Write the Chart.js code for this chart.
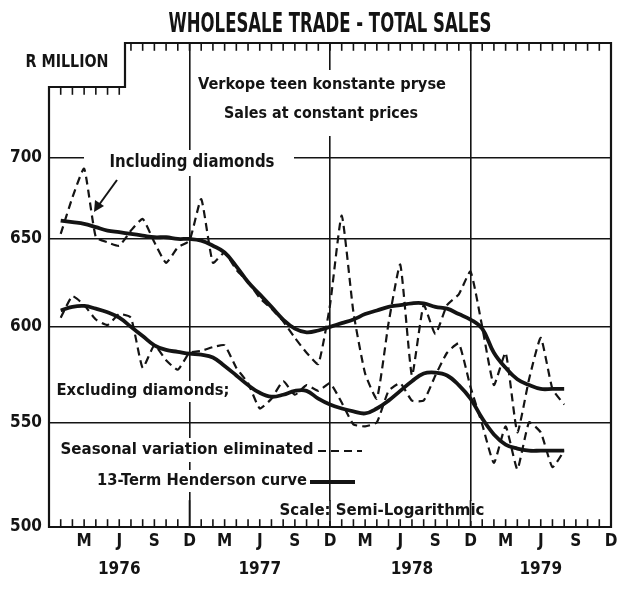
<!DOCTYPE html>
<html><head><meta charset="utf-8">
<script src="https://cdn.jsdelivr.net/npm/chart.js@4.4.1/dist/chart.umd.min.js"></script>
<style>html,body{margin:0;padding:0;background:#fff;}#wrap{width:621px;height:592px;}</style>
</head><body><div id="wrap"><canvas id="c" width="621" height="592"></canvas></div>
<script>
// ---------------- data ----------------
const months = ['1975-12',
 '1976-01','1976-02','1976-03','1976-04','1976-05','1976-06','1976-07','1976-08','1976-09','1976-10','1976-11','1976-12',
 '1977-01','1977-02','1977-03','1977-04','1977-05','1977-06','1977-07','1977-08','1977-09','1977-10','1977-11','1977-12',
 '1978-01','1978-02','1978-03','1978-04','1978-05','1978-06','1978-07','1978-08','1978-09','1978-10','1978-11','1978-12',
 '1979-01','1979-02','1979-03','1979-04','1979-05','1979-06','1979-07','1979-08','1979-09','1979-10','1979-11','1979-12'];

const monthTickLabels = ['',
 '','','M','','','J','','','S','','','D',
 '','','M','','','J','','','S','','','D',
 '','','M','','','J','','','S','','','D',
 '','','M','','','J','','','S','','','D'];

const yearLabels = ['1976','1977','1978','1979'];
const yearTickMonths = ['1976-06','1977-06','1978-07','1979-06'];

const yTicks = [500, 550, 600, 650, 700];

// Jan 1976 .. Aug 1979 (44 months), R million at constant prices
const inclSeasonal = [653,675,693,651,648,646,655,662,648,636,645,649,
                      674,636,642,632,625,616,610,603,594,586,580,612,
                      664,608,575,562,602,635,574,612,596,612,618,631,
                      600,569,586,545,572,594,567,559];
const inclHenderson = [661,660,659,657,655,654,653,652,651,651,650,650,
                       649,646,642,634,625,618,611,604,599,597,598,600,
                       602,604,607,609,611,612,613,613,611,610,607,604,
                       599,586,578,572,569,567,567,567];
const exclSeasonal = [605,617,612,604,601,607,605,578,590,582,577,586,
                      587,589,590,578,570,557,562,571,564,569,566,570,
                      560,549,548,550,566,570,561,561,574,586,591,568,
                      549,530,548,527,550,545,528,536];
const exclHenderson = [609,611,611.5,610,608,605,600,595,590,587.5,586.5,585.5,
                       585,583.5,579,574,569,565,563,564,566,566,562,559,
                       557,555.5,554.5,557,561,566,571,575,575.5,574,569,562,
                       552,544,539,537,536,536,536,536];

// ---------------- helpers ----------------
const FONT = "'DejaVu Sans Condensed','Liberation Sans Narrow','DejaVu Sans',sans-serif";
const pad = arr => [null, ...arr, null, null, null, null];
const INK = '#141414';

const notes = [
  {t:'WHOLESALE TRADE - TOTAL SALES', x:330, y:25, s:26, w:323},
  {t:'R MILLION', x:67, y:63, s:17, w:83},
  {t:'Verkope teen konstante pryse', x:322, y:85, s:16, w:248},
  {t:'Sales at constant prices', x:321, y:114, s:16, w:194},
  {t:'Including diamonds', x:192, y:163, s:17, w:165},
  {t:'Excluding diamonds;', x:143, y:391, s:16, w:173},
  {t:'Seasonal variation eliminated', x:187, y:450, s:16, w:253},
  {t:'13-Term Henderson curve', x:202, y:481, s:16, w:210},
  {t:'Scale: Semi-Logarithmic', x:382, y:511, s:15, w:205}
];
const masks = [[192,70,262,66],[84,150,210,26],[55,381,180,21],[55,438,262,24],[94,470,220,22],[272,501,222,20]];

function drawText(ctx, n){
  ctx.save();
  ctx.font = 'bold ' + n.s + 'px ' + FONT;
  ctx.fillStyle = INK; ctx.textAlign = 'center'; ctx.textBaseline = 'middle';
  const m = ctx.measureText(n.t).width;
  ctx.translate(n.x, n.y); ctx.scale(n.w / m, 1);
  ctx.fillText(n.t, 0, 0);
  ctx.restore();
}

const decor = {
  id: 'decor',
  beforeDraw(c){ const ctx=c.ctx; ctx.save(); ctx.fillStyle='#fff'; ctx.fillRect(0,0,c.width,c.height); ctx.restore(); },
  beforeDatasetsDraw(c){
    const ctx = c.ctx, a = c.chartArea, xs = c.scales.x;
    ctx.save();
    ctx.fillStyle = '#fff';
    masks.forEach(r => ctx.fillRect(r[0], r[1], r[2], r[3]));
    const notchX = 125, notchY = 87;
    ctx.strokeStyle = INK; ctx.lineWidth = 2.2; ctx.lineCap = 'square';
    ctx.beginPath();
    ctx.moveTo(a.left, a.bottom); ctx.lineTo(a.left, notchY); ctx.lineTo(notchX, notchY);
    ctx.lineTo(notchX, a.top); ctx.lineTo(a.right, a.top); ctx.lineTo(a.right, a.bottom); ctx.closePath();
    ctx.stroke();
    ctx.lineWidth = 1.6;
    for (let i = 0; i < months.length; i++){
      const px = xs.getPixelForValue(i);
      const dec = months[i].endsWith('-12');
      ctx.beginPath(); ctx.moveTo(px, a.bottom); ctx.lineTo(px, a.bottom - (dec && i>0 && i<48 ? 26 : 7)); ctx.stroke();
      const ty = px < notchX ? notchY : a.top;
      if (i > 0 && i < 48){ ctx.beginPath(); ctx.moveTo(px, ty); ctx.lineTo(px, ty + 7); ctx.stroke(); }
    }
    ctx.restore();
  },
  afterDatasetsDraw(c){
    const ctx = c.ctx;
    notes.forEach(n => drawText(ctx, n));
    ctx.save();
    ctx.strokeStyle = INK;
    ctx.lineWidth = 2.2; ctx.setLineDash([8,5]);
    ctx.beginPath(); ctx.moveTo(318, 451); ctx.lineTo(362, 451); ctx.stroke();
    ctx.setLineDash([]); ctx.lineWidth = 3.8;
    ctx.beginPath(); ctx.moveTo(310, 482); ctx.lineTo(355, 482); ctx.stroke();
    ctx.lineWidth = 2;
    ctx.beginPath(); ctx.moveTo(117, 180); ctx.lineTo(96, 209); ctx.stroke();
    ctx.fillStyle = INK;
    ctx.beginPath(); ctx.moveTo(94, 212); ctx.lineTo(95, 200); ctx.lineTo(104, 206); ctx.closePath(); ctx.fill();
    ctx.restore();
  }
};

const solid = (data) => ({data: pad(data), borderColor: INK, borderWidth: 3.8, pointRadius: 0, tension: 0.4, fill: false});
const dashed = (data) => ({data: pad(data), borderColor: INK, borderWidth: 2.2, borderDash: [8,5], pointRadius: 0, tension: 0.15, fill: false});

new Chart(document.getElementById('c'), {
  type: 'line',
  data: {
    labels: months,
    datasets: [
      Object.assign({label: 'Including diamonds (seasonal variation eliminated)'}, dashed(inclSeasonal)),
      Object.assign({label: 'Including diamonds (13-term Henderson)'}, solid(inclHenderson)),
      Object.assign({label: 'Excluding diamonds (seasonal variation eliminated)'}, dashed(exclSeasonal)),
      Object.assign({label: 'Excluding diamonds (13-term Henderson)'}, solid(exclHenderson))
    ]
  },
  options: {
    responsive: false, animation: false, devicePixelRatio: 1,
    layout: {padding: {top: 43, right: 10, left: 0, bottom: 0}},
    plugins: {legend: {display: false}, title: {display: false}, tooltip: {enabled: false}},
    scales: {
      x: {
        type: 'category', offset: false,
        border: {display: false},
        grid: {drawTicks: false, lineWidth: 1.6,
               color: ctx => (ctx.index === 12 || ctx.index === 24 || ctx.index === 36) ? INK : 'rgba(0,0,0,0)'},
        ticks: {autoSkip: false, maxRotation: 0, padding: 1, color: INK,
                font: {family: FONT, size: 17, weight: 'bold', lineHeight: 1.65},
                callback: (v, i) => {
                  const k = yearTickMonths.indexOf(months[i]);
                  return k >= 0 ? [monthTickLabels[i], yearLabels[k]] : monthTickLabels[i];
                }},
        afterFit: s => { s.height = 65; }
      },
      y: {
        type: 'logarithmic', min: 500, max: 777,
        border: {display: false},
        grid: {drawTicks: false, lineWidth: 1.6,
               color: ctx => ctx.tick && ctx.tick.value === 500 ? 'rgba(0,0,0,0)' : INK},
        afterBuildTicks: s => { s.ticks = yTicks.map(v => ({value: v})); },
        ticks: {padding: 7, color: INK, font: {family: FONT, size: 17, weight: 'bold'},
                callback: v => String(v)},
        afterFit: s => { s.width = 49; }
      }
    }
  },
  plugins: [decor]
});
</script></body></html>
